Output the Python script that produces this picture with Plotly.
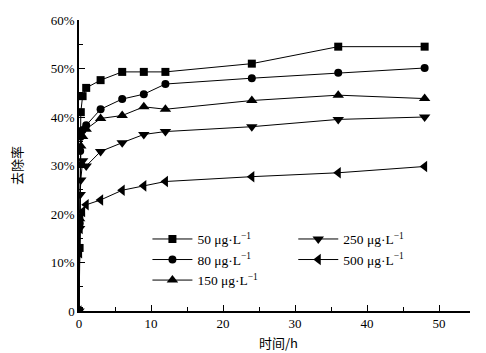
import plotly.graph_objects as go

time_h = [0, 0.083, 0.167, 0.25, 0.5, 1, 3, 6, 9, 12, 24, 36, 48]
c50 = [0, 0.13, 0.37, 0.41, 0.443, 0.46, 0.476, 0.493, 0.493, 0.493, 0.51, 0.545, 0.545]
c80 = [0, 0.18, 0.33, 0.36, 0.373, 0.383, 0.416, 0.437, 0.447, 0.468, 0.48, 0.491, 0.501]
c150 = [0, 0.19, 0.30, 0.34, 0.36, 0.375, 0.397, 0.403, 0.421, 0.416, 0.434, 0.445, 0.438]
c250 = [0, 0.17, 0.24, 0.27, 0.31, 0.299, 0.329, 0.347, 0.364, 0.37, 0.38, 0.395, 0.40]
c500 = [0, 0.12, 0.17, 0.19, 0.205, 0.219, 0.229, 0.249, 0.258, 0.267, 0.277, 0.285, 0.298]

series = [
    ("50 μg·L<sup>−1</sup>", c50, "square", 8, "legend"),
    ("80 μg·L<sup>−1</sup>", c80, "circle", 8, "legend"),
    ("150 μg·L<sup>−1</sup>", c150, "triangle-up", 10, "legend"),
    ("250 μg·L<sup>−1</sup>", c250, "triangle-down", 10, "legend2"),
    ("500 μg·L<sup>−1</sup>", c500, "triangle-left", 10, "legend2"),
]

x_title = "时间/h"
y_title = "去除率"

font_fam = "Liberation Serif, Times New Roman, Noto Sans CJK SC, serif"
cjk_fam = "Noto Sans CJK SC"

fig = go.Figure()
for name, vals, sym, sz, lg in series:
    fig.add_trace(go.Scatter(
        x=time_h, y=vals, name=name, mode="lines+markers",
        line=dict(color="black", width=1),
        marker=dict(symbol=sym, size=sz, color="black"),
        legend=lg,
    ))

yticks = [0, 0.1, 0.2, 0.3, 0.4, 0.5, 0.6]
ytext = ["0", "10%", "20%", "30%", "40%", "50%", "60%"]

fig.update_layout(
    width=486, height=353,
    margin=dict(l=79, r=16, t=20, b=42),
    paper_bgcolor="white", plot_bgcolor="white",
    font=dict(family=font_fam, size=13, color="black"),
    showlegend=True,
    legend=dict(x=0.175, y=0.30, xanchor="left", yanchor="top",
                bgcolor="rgba(0,0,0,0)", tracegroupgap=0,
                font=dict(size=13.5, family=font_fam), itemwidth=40),
    legend2=dict(x=0.548, y=0.30, xanchor="left", yanchor="top",
                 bgcolor="rgba(0,0,0,0)", tracegroupgap=0,
                 font=dict(size=13.5, family=font_fam), itemwidth=40),
    xaxis=dict(
        range=[0, 54.3], tickvals=[0, 10, 20, 30, 40, 50],
        ticks="inside", ticklen=6, tickcolor="black", tickwidth=1,
        minor=dict(dtick=5, ticks="inside", ticklen=4, tickcolor="black"),
        showline=True, linecolor="black", linewidth=1.5,
        showgrid=False, zeroline=False, automargin=False,
        tickfont=dict(size=13),
    ),
    yaxis=dict(
        range=[0, 0.6], tickvals=yticks, ticktext=ytext,
        ticks="inside", ticklen=6, tickcolor="black", tickwidth=1,
        minor=dict(dtick=0.05, ticks="inside", ticklen=4, tickcolor="black"),
        showline=True, linecolor="black", linewidth=1.5,
        showgrid=False, zeroline=False, automargin=False,
        tickfont=dict(size=13),
    ),
    annotations=[
        dict(text=x_title, xref="paper", yref="paper", x=0.509, y=-0.108,
             xanchor="center", yanchor="middle", showarrow=False,
             font=dict(family=cjk_fam, size=13)),
        dict(text=y_title, xref="paper", yref="paper", x=-0.1586, y=0.502,
             xanchor="center", yanchor="middle", showarrow=False, textangle=-90,
             font=dict(family=cjk_fam, size=13)),
    ],
)

fig.write_html("out.html")
